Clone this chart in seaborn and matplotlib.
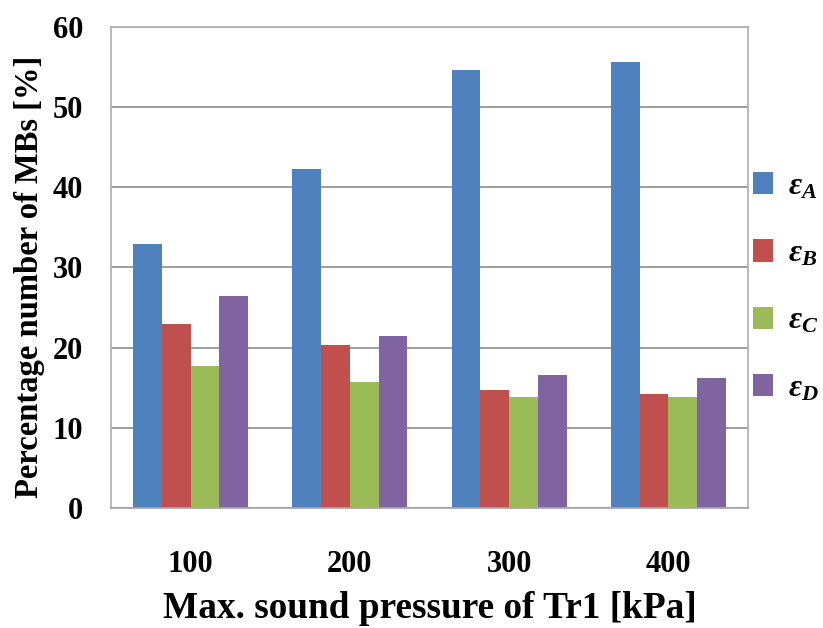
import numpy as np
import pandas as pd
import seaborn as sns
import matplotlib
matplotlib.use("Agg")
import matplotlib.pyplot as plt
from matplotlib.ticker import FixedLocator
from matplotlib.patches import Patch

# Data: percentage of microbubbles per category vs. Tr1 peak pressure
pressures = ["100", "200", "300", "400"]
series = [r"$\varepsilon_A$", r"$\varepsilon_B$", r"$\varepsilon_C$", r"$\varepsilon_D$"]
eps_a = [32.9, 42.3, 54.6, 55.6]
eps_b = [22.9, 20.3, 14.7, 14.2]
eps_c = [17.7, 15.7, 13.8, 13.8]
eps_d = [26.5, 21.4, 16.6, 16.2]
y_ticks = [0, 10, 20, 30, 40, 50, 60]
colors = ["#4F81BD", "#C0504D", "#9BBB59", "#8064A2"]

df = pd.DataFrame({
    "pressure": pressures * 4,
    "series": [s for s in series for _ in pressures],
    "value": eps_a + eps_b + eps_c + eps_d,
})

sns.set_style("white")
plt.rcParams["font.family"] = ["Liberation Serif", "DejaVu Serif"]
plt.rcParams["font.weight"] = "bold"
plt.rcParams["text.color"] = "black"
plt.rcParams["axes.labelcolor"] = "black"
plt.rcParams["xtick.color"] = "black"
plt.rcParams["ytick.color"] = "black"
plt.rcParams["mathtext.fontset"] = "custom"
plt.rcParams["mathtext.rm"] = "Liberation Serif:bold"
plt.rcParams["mathtext.it"] = "Liberation Serif:italic:bold"
plt.rcParams["mathtext.bf"] = "Liberation Serif:bold"

fig = plt.figure(figsize=(8.23, 6.28), dpi=100)
ax = fig.add_axes([0.1349, 0.1911, 0.774, 0.766])

sns.barplot(data=df, x="pressure", y="value", hue="series", order=pressures,
            hue_order=series, palette=colors, width=0.722, gap=0,
            saturation=1, ax=ax, legend=False, edgecolor="none")

ax.set_ylim(0, 60)
ax.set_xlim(-0.5, 3.5)
ax.set_yticks(y_ticks)
ax.yaxis.grid(True, color="#8C8C8C", linewidth=1.2)
ax.set_axisbelow(True)

for side in ["left", "right", "top", "bottom"]:
    ax.spines[side].set_visible(True)
    ax.spines[side].set_color("#B4B4B4")
    ax.spines[side].set_linewidth(1.3)
ax.spines["bottom"].set_color("#A8A8A8")

ax.tick_params(axis="y", length=0, labelsize=22, pad=20)
ax.tick_params(axis="x", which="major", length=0, labelsize=22, pad=30)
ax.xaxis.set_minor_locator(FixedLocator([0.5, 1.5, 2.5]))
ax.tick_params(axis="x", which="minor", direction="in", length=9,
               width=1.2, color="#A8A8A8")
for lbl in ax.get_xticklabels() + ax.get_yticklabels():
    lbl.set_fontweight("bold")

ax.set_xlabel("Max. sound pressure of Tr1 [kPa]", fontsize=26.8,
              fontweight="bold", labelpad=9)
ax.set_ylabel("Percentage number of MBs [%]", fontsize=23.5,
              fontweight="bold")
ax.yaxis.set_label_coords(-0.103, 0.48)

handles = [Patch(facecolor=c, edgecolor="none") for c in colors]
ax.legend(handles, series, loc="center left", bbox_to_anchor=(1.0, 0.458),
          frameon=False, fontsize=23, handlelength=0.63, handleheight=0.69,
          handletextpad=0.45, labelspacing=1.19, borderaxespad=0.08,
          borderpad=0.08)

fig.savefig("out.png", dpi=100, facecolor="white")
